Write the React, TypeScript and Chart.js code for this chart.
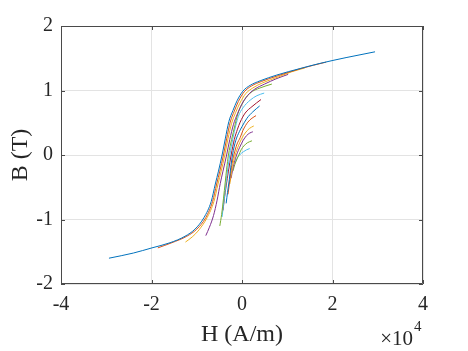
import React, { useEffect, useRef } from "react";
import { Chart, registerables } from "chart.js";

Chart.register(...registerables);

// H in units of 10^4 A/m, B in T (descending branches, largest loop first)
const loop1H = [-2.94, -2.4, -1.99, -1.59, -1.26, -1.04, -0.84, -0.68, -0.59, -0.52, -0.44, -0.37, -0.29, -0.2, -0.11, 0.02, 0.18, 0.4, 0.77, 1.28, 1.72, 2.3, 2.94];
const loop1B = [-1.6, -1.52, -1.44, -1.36, -1.26, -1.15, -0.97, -0.72, -0.45, -0.25, 0.0, 0.25, 0.52, 0.69, 0.84, 0.99, 1.08, 1.15, 1.24, 1.34, 1.42, 1.51, 1.6];
const loop2H = [-1.86, -1.55, -1.22, -1.0, -0.8, -0.65, -0.56, -0.49, -0.41, -0.34, -0.26, -0.17, -0.08, 0.05, 0.21, 0.43, 0.8, 1.3, 1.86];
const loop2B = [-1.44, -1.36, -1.26, -1.15, -0.97, -0.72, -0.45, -0.25, 0.0, 0.25, 0.51, 0.68, 0.83, 0.98, 1.07, 1.14, 1.23, 1.34, 1.44];
const loop3H = [-1.25, -1.1, -0.95, -0.77, -0.62, -0.53, -0.46, -0.38, -0.31, -0.23, -0.14, -0.05, 0.08, 0.24, 0.46, 0.8, 1.1, 1.39];
const loop3B = [-1.35, -1.27, -1.16, -0.97, -0.72, -0.45, -0.25, 0.0, 0.25, 0.49, 0.66, 0.8, 0.95, 1.04, 1.12, 1.21, 1.29, 1.35];
const loop4H = [-0.8, -0.72, -0.63, -0.55, -0.48, -0.42, -0.34, -0.27, -0.19, -0.1, -0.01, 0.12, 0.28, 0.5, 0.75, 1.02];
const loop4B = [-1.25, -1.12, -0.94, -0.7, -0.44, -0.25, 0.0, 0.24, 0.47, 0.64, 0.78, 0.92, 1.02, 1.1, 1.18, 1.25];
const loop5H = [-0.49, -0.45, -0.41, -0.37, -0.34, -0.3, -0.23, -0.16, -0.1, 0.0, 0.18, 0.4, 0.66];
const loop5B = [-1.1, -0.92, -0.68, -0.42, -0.22, 0.0, 0.24, 0.45, 0.62, 0.79, 0.96, 1.04, 1.1];
const loop6H = [-0.44, -0.41, -0.37, -0.33, -0.27, -0.2, -0.14, -0.08, 0.02, 0.18, 0.33, 0.49];
const loop6B = [-0.96, -0.78, -0.55, -0.3, 0.0, 0.26, 0.45, 0.6, 0.73, 0.85, 0.92, 0.96];
const loop7H = [-0.42, -0.39, -0.35, -0.3, -0.24, -0.17, -0.1, -0.04, 0.07, 0.22, 0.42];
const loop7B = [-0.86, -0.68, -0.48, -0.25, 0.0, 0.24, 0.4, 0.51, 0.65, 0.75, 0.86];
const loop8H = [-0.35, -0.32, -0.28, -0.25, -0.21, -0.14, -0.06, 0.0, 0.11, 0.24, 0.39];
const loop8B = [-0.75, -0.58, -0.38, -0.2, 0.0, 0.22, 0.36, 0.44, 0.57, 0.67, 0.76];
const loop9H = [-0.31, -0.28, -0.25, -0.22, -0.18, -0.11, -0.04, 0.02, 0.13, 0.22, 0.31];
const loop9B = [-0.61, -0.45, -0.28, -0.13, 0.0, 0.17, 0.27, 0.38, 0.51, 0.57, 0.61];
const loop10H = [-0.27, -0.24, -0.21, -0.15, -0.08, -0.01, 0.07, 0.16, 0.26];
const loop10B = [-0.45, -0.32, -0.18, 0.0, 0.14, 0.25, 0.34, 0.41, 0.45];
const loop11H = [-0.24, -0.21, -0.17, -0.12, -0.05, 0.02, 0.1, 0.17, 0.24];
const loop11B = [-0.36, -0.24, -0.12, 0.0, 0.12, 0.22, 0.3, 0.34, 0.36];
const loop12H = [-0.2, -0.16, -0.11, -0.07, -0.02, 0.04, 0.12, 0.22];
const loop12B = [-0.25, -0.15, -0.06, 0.0, 0.08, 0.14, 0.19, 0.22];
const loop13H = [-0.15, -0.1, -0.04, 0.03, 0.1, 0.17];
const loop13B = [-0.12, -0.04, 0.01, 0.05, 0.08, 0.1];

const loopsH = [loop1H, loop2H, loop3H, loop4H, loop5H, loop6H, loop7H, loop8H, loop9H, loop10H, loop11H, loop12H, loop13H];
const loopsB = [loop1B, loop2B, loop3B, loop4B, loop5B, loop6B, loop7B, loop8B, loop9B, loop10B, loop11B, loop12B, loop13B];

const colors = ["#0072BD", "#D95319", "#EDB120", "#7E2F8E", "#77AC30", "#4DBEEE", "#A2142F"];

const xTicks = [-4, -2, 0, 2, 4];
const yTicks = [-2, -1, 0, 1, 2];

const xTitle = "H (A/m)";
const yTitle = "B (T)";
const exponentBase = "\u00d710";
const exponentPower = "4";

const FONT = "'Liberation Serif', 'Times New Roman', serif";
const TEXT = "#262626";

const framePlugin = {
  id: "matlabFrame",
  afterDatasetsDraw(chart: any) {
    const { ctx, chartArea, scales } = chart;
    const { left, right, top, bottom } = chartArea;
    ctx.save();
    ctx.strokeStyle = "#4a4a4a";
    ctx.lineWidth = 1;
    ctx.beginPath();
    ctx.rect(Math.round(left) + 0.5, Math.round(top) + 0.5, Math.round(right - left) - 1, Math.round(bottom - top) - 1);
    ctx.stroke();
    const tl = 4;
    ctx.beginPath();
    for (const v of xTicks) {
      const x = Math.round(scales.x.getPixelForValue(v)) + 0.5;
      ctx.moveTo(x, bottom);
      ctx.lineTo(x, bottom - tl);
      ctx.moveTo(x, top);
      ctx.lineTo(x, top + tl);
    }
    for (const v of yTicks) {
      const y = Math.round(scales.y.getPixelForValue(v)) + 0.5;
      ctx.moveTo(left, y);
      ctx.lineTo(left + tl, y);
      ctx.moveTo(right, y);
      ctx.lineTo(right - tl, y);
    }
    ctx.stroke();
    // exponent label
    ctx.fillStyle = TEXT;
    ctx.textBaseline = "alphabetic";
    ctx.textAlign = "left";
    ctx.font = `21px ${FONT}`;
    const baseW = ctx.measureText(exponentBase).width;
    const bx = right - baseW - 10;
    ctx.fillText(exponentBase, bx, 345);
    ctx.font = `15px ${FONT}`;
    ctx.fillText(exponentPower, bx + baseW + 1, 331);
    ctx.restore();
  },
};

export default function App() {
  const ref = useRef<HTMLCanvasElement | null>(null);
  useEffect(() => {
    if (!ref.current) return;
    const datasets = loopsH.map((hs, i) => ({
      data: hs.map((h, j) => ({ x: h, y: loopsB[i][j] })),
      borderColor: colors[i % colors.length],
      backgroundColor: colors[i % colors.length],
      borderWidth: 1,
      pointRadius: 0,
      showLine: true,
      cubicInterpolationMode: "monotone" as const,
    }));
    const chart = new Chart(ref.current, {
      type: "scatter",
      data: { datasets },
      plugins: [framePlugin],
      options: {
        animation: false,
        responsive: false,
        maintainAspectRatio: false,
        layout: { padding: { left: 0, right: 45, top: 26, bottom: 0 } },
        plugins: { legend: { display: false }, tooltip: { enabled: false } },
        scales: {
          x: {
            type: "linear",
            min: -4,
            max: 4,
            afterBuildTicks: (axis: any) => {
              axis.ticks = xTicks.map((v) => ({ value: v }));
            },
            afterFit: (axis: any) => {
              axis.height = 67;
            },
            grid: { color: "#e3e3e3", drawTicks: false, lineWidth: 1 },
            border: { display: false },
            ticks: {
              color: TEXT,
              font: { family: FONT, size: 20 },
              padding: 9,
              maxRotation: 0,
              callback: (v: any) => String(v),
            },
            title: {
              display: true,
              text: xTitle,
              color: TEXT,
              font: { family: FONT, size: 24 },
              padding: { top: 0, bottom: 2 },
            },
          },
          y: {
            type: "linear",
            min: -2,
            max: 2,
            afterBuildTicks: (axis: any) => {
              axis.ticks = yTicks.map((v) => ({ value: v }));
            },
            afterFit: (axis: any) => {
              axis.width = 61;
            },
            grid: { color: "#e3e3e3", drawTicks: false, lineWidth: 1 },
            border: { display: false },
            ticks: {
              color: TEXT,
              font: { family: FONT, size: 20 },
              padding: 8,
              callback: (v: any) => String(v),
            },
            title: {
              display: true,
              text: yTitle,
              color: TEXT,
              font: { family: FONT, size: 24 },
              padding: { top: 6, bottom: 0 },
            },
          },
        },
      },
    });
    return () => chart.destroy();
  }, []);
  return (
    <div style={{ position: "absolute", left: 0, top: 0, width: 468, height: 351, background: "#fff" }}>
      <canvas ref={ref} width={468} height={351} style={{ display: "block", width: 468, height: 351 }} />
    </div>
  );
}
